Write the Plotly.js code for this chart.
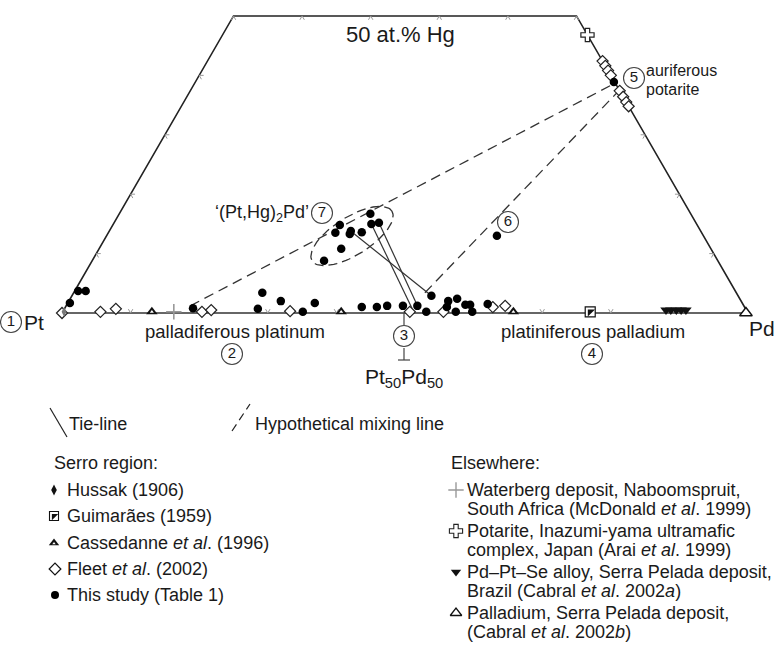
<!DOCTYPE html>
<html><head><meta charset="utf-8">
<script src="https://cdn.plot.ly/plotly-3.0.1.min.js"></script>
<style>html,body{margin:0;padding:0;background:#fff}#chart{width:779px;height:657px}</style>
</head><body><div id="chart"></div>
<script>
// Compositions in at.% : Pd and Hg (Pt = 100 - Pd - Hg)
const thisStudyPd = [0.3,0.5,1.6,18.7,28.2,27.5,30.9,35.0,36.0,43.2,45.4,46.8,49.1,51.2,53.0,52.4,55.3,55.6,56.4,57.3,58.1,58.8,59.7,61.3,36.6,33.1,33.1,35.2,35.3,36.9,37.6,38.6,35.3,33.8,56.9,61.0];
const thisStudyHg = [1.7,3.7,3.7,0.8,0.7,3.4,2.0,0.2,1.7,1.0,1.0,1.2,1.2,1.2,0.2,2.9,2.0,1.0,2.4,0.2,1.4,1.4,0.2,1.5,16.7,14.8,13.5,13.8,13.3,13.6,15.0,15.2,10.8,8.8,13.0,38.9];
const fleetPd = [0,5.5,7.5,20.3,21.5,33.1,50.6,55.5,62.3,64.0,57.6,58.4,59.2,60.0,62.6,63.6,64.5,65.2];
const fleetHg = [0,0.2,0.7,0.2,0.5,0.3,0.2,0.2,1.0,1.2,42.4,41.6,40.8,40.0,37.4,36.4,35.5,34.8];
const hussakPd = [0.2], hussakHg = [0.2];
const cassedannePd = [13.0,40.6,65.7], cassedanneHg = [0.2,0.2,0.2];
const guimaraesPd = [76.9], guimaraesHg = [0.2];
const waterbergPd = [16.2], waterbergHg = [0.2];
const inazumiPd = [53.2], inazumiHg = [46.8];
const pdPtSePd = [87.8,88.5,89.3,90.0,90.7], pdPtSeHg = [0.5,0.5,0.5,0.5,0.5];
const palladiumPd = [99.7], palladiumHg = [0];
// tie-lines and hypothetical mixing lines (start/end compositions)
const tieFromPd = [35.5,37.6,38.6], tieFromHg = [13.6,15.0,15.2];
const tieToPd = [52.4,50.7,51.4], tieToHg = [2.9,0.7,1.0];
const mixFromPd = [18.1,51.2], mixFromHg = [1.2,3.4];
const mixToPd = [61.3,62.5], mixToHg = [38.7,37.5];
// tick positions (at.%)
const baseTicks = [10,20,30,40,60,70,80,90];
const topTicks = [0,10,20,30,40,50];
const sideTicks = [10,20,30,40];

const W=779,H=657,X0=62,Y0=313,S=6.86,R3=Math.sqrt(3)/2;
const F='Liberation Sans, Arial, sans-serif';
const C='#1a1a1a';
function c2d(pd,hg){return [pd+hg/2, hg*R3];}
function px(xp,yp){return [(xp-X0)/S,(Y0-yp)/S];}
function pts(pdA,hgA){const x=[],y=[];pdA.forEach((p,i)=>{const d=c2d(p,hgA[i]);x.push(d[0]);y.push(d[1]);});return {x,y};}
function segs(fp,fh,tp,th){const x=[],y=[];fp.forEach((p,i)=>{const a=c2d(p,fh[i]),b=c2d(tp[i],th[i]);x.push(a[0],b[0],null);y.push(a[1],b[1],null);});return {x,y};}

const traces=[];
// frame
const fr=[c2d(0,0),c2d(0,50),c2d(50,50),c2d(100,0)];
traces.push({type:'scatter',mode:'lines',x:fr.map(p=>p[0]),y:fr.map(p=>p[1]),line:{color:'#222',width:1.6},hoverinfo:'skip'});
traces.push({type:'scatter',mode:'lines',x:[0,100],y:[0,0],line:{color:'#666',width:2},hoverinfo:'skip'});
// ticks
(function(){const x=[],y=[],L=0.65;
 baseTicks.forEach(t=>{const p=c2d(t,0);x.push(p[0]-L*0.5,p[0],p[0]+L*0.5,null);y.push(p[1]+L*R3,p[1],p[1]+L*R3,null);});
 topTicks.forEach(t=>{const p=c2d(t,50);x.push(p[0]-L*0.5,p[0],p[0]+L*0.5,null);y.push(p[1]-L*R3,p[1],p[1]-L*R3,null);});
 sideTicks.forEach(t=>{let p=c2d(0,t);x.push(p[0]+L,p[0],p[0]+L*0.5,null);y.push(p[1],p[1],p[1]-L*R3,null);
   p=c2d(100-t,t);x.push(p[0]-L,p[0],p[0]-L*0.5,null);y.push(p[1],p[1],p[1]-L*R3,null);});
 traces.push({type:'scatter',mode:'lines',x,y,line:{color:'#999',width:1},hoverinfo:'skip'});
})();
// Pt50Pd50 marker line
(function(){const a=px(404,313),b=px(404,325),c=px(404,348),d=px(404,360),e=px(398,360),f=px(410,360);
 traces.push({type:'scatter',mode:'lines',x:[a[0],b[0],null,c[0],d[0],null,e[0],f[0]],y:[a[1],b[1],null,c[1],d[1],null,e[1],f[1]],line:{color:'#444',width:1.2},hoverinfo:'skip'});})();
// ellipse (dashed) around the '(Pt,Hg)2Pd' cluster
(function(){const ctr=px(352,236),a=47/S,b=19/S,th=32*Math.PI/180,x=[],y=[];
 for(let i=0;i<=80;i++){const t=2*Math.PI*i/80;x.push(ctr[0]+a*Math.cos(t)*Math.cos(th)-b*Math.sin(t)*Math.sin(th));y.push(ctr[1]+a*Math.cos(t)*Math.sin(th)+b*Math.sin(t)*Math.cos(th));}
 traces.push({type:'scatter',mode:'lines',x,y,line:{color:'#333',width:1.3,dash:'9px,5px'},hoverinfo:'skip'});})();
// mixing lines
const mx=segs(mixFromPd,mixFromHg,mixToPd,mixToHg);
traces.push({type:'scatter',mode:'lines',x:mx.x,y:mx.y,line:{color:'#333',width:1.3,dash:'10px,6px'},hoverinfo:'skip'});
// tie lines
const tl=segs(tieFromPd,tieFromHg,tieToPd,tieToHg);
traces.push({type:'scatter',mode:'lines',x:tl.x,y:tl.y,line:{color:'#333',width:1.2},hoverinfo:'skip'});

function mk(pdA,hgA,marker){const p=pts(pdA,hgA);traces.push({type:'scatter',mode:'markers',x:p.x,y:p.y,marker,hoverinfo:'skip'});}
mk(waterbergPd,waterbergHg,{symbol:'cross-thin',size:11,line:{color:'#999',width:1.6}});
mk(cassedannePd,cassedanneHg,{symbol:'triangle-up',size:10,color:'#111',line:{width:0}});
mk(cassedannePd,cassedanneHg,{symbol:'triangle-up',size:3.5,color:'#fff',line:{width:0}});
mk(guimaraesPd,guimaraesHg,{symbol:'square',size:10,color:'#fff',line:{color:'#111',width:1.2}});
mk(guimaraesPd,guimaraesHg,{symbol:'triangle-nw',size:8,color:'#111',line:{width:0}});
mk(inazumiPd,inazumiHg,{symbol:'cross',size:11,color:'#fff',line:{color:'#222',width:1.2}});
mk(pdPtSePd,pdPtSeHg,{symbol:'triangle-down',size:10,color:'#111',line:{width:0}});
mk(palladiumPd,palladiumHg,{symbol:'triangle-up',size:11,color:'#fff',line:{color:'#111',width:1.4}});
mk(fleetPd,fleetHg,{symbol:'diamond',size:8.5,color:'#fff',line:{color:'#222',width:1.2}});
mk(hussakPd,hussakHg,{symbol:'diamond-tall',size:7,color:'#777',line:{width:0}});
mk(thisStudyPd,thisStudyHg,{symbol:'circle',size:8.5,color:'#000',line:{width:0}});

// circled numbers
(function(){const pos=[[11,322,'1'],[232,354,'2'],[404,336,'3'],[592,354,'4'],[634,78,'5'],[508,222,'6'],[322,213,'7']];
 const x=[],y=[],t=[];pos.forEach(p=>{const d=px(p[0],p[1]);x.push(d[0]);y.push(d[1]);t.push(p[2]);});
 traces.push({type:'scatter',mode:'markers+text',x,y,text:t,textposition:'middle center',textfont:{family:F,size:15,color:C},marker:{symbol:'circle',size:21,color:'#fff',line:{color:'#444',width:1.1}},hoverinfo:'skip'});})();

// legend symbols
function lg(xp,yp,marker){const d=px(xp,yp);traces.push({type:'scatter',mode:'markers',x:[d[0]],y:[d[1]],marker,hoverinfo:'skip'});}
lg(54,490,{symbol:'diamond-tall',size:8,color:'#111',line:{width:0}});
lg(54,516,{symbol:'square',size:9,color:'#fff',line:{color:'#111',width:1.1}});
lg(54,516,{symbol:'triangle-nw',size:7,color:'#111',line:{width:0}});
lg(54,543,{symbol:'triangle-up',size:9,color:'#111',line:{width:0}});
lg(54,543.5,{symbol:'triangle-up',size:3,color:'#fff',line:{width:0}});
lg(55,569,{symbol:'diamond',size:9,color:'#fff',line:{color:'#111',width:1.2}});
lg(55,595,{symbol:'circle',size:8,color:'#000',line:{width:0}});
lg(456,490,{symbol:'cross-thin',size:11,line:{color:'#999',width:1.4}});
lg(456,531,{symbol:'cross',size:11,color:'#fff',line:{color:'#222',width:1.1}});
lg(456,572,{symbol:'triangle-down',size:9,color:'#111',line:{width:0}});
lg(456,613,{symbol:'triangle-up',size:10,color:'#fff',line:{color:'#111',width:1.3}});
(function(){const a=px(50,408),b=px(67,437);traces.push({type:'scatter',mode:'lines',x:[a[0],b[0]],y:[a[1],b[1]],line:{color:'#222',width:1.2},hoverinfo:'skip'});
 const c=px(232,431),d=px(250,404);traces.push({type:'scatter',mode:'lines',x:[c[0],d[0]],y:[c[1],d[1]],line:{color:'#222',width:1.2,dash:'8px,5px'},hoverinfo:'skip'});})();

function ann(xp,yp,text,size,anchor){return {xref:'paper',yref:'paper',x:xp/W,y:1-yp/H,text,showarrow:false,xanchor:anchor||'left',yanchor:'middle',font:{family:F,size,color:C}};}
const LS=18;
const annotations=[
 ann(400,34,'50 at.% Hg',22,'center'),
 ann(22,323,'Pt',21,'left'),
 ann(762,328,'Pd',21,'center'),
 ann(235,331,'palladiferous platinum',18.5,'center'),
 ann(593,331,'platiniferous palladium',18.5,'center'),
 ann(404,378,'Pt<sub>50</sub>Pd<sub>50</sub>',21,'center'),
 ann(311,213,'‘(Pt,Hg)<sub>2</sub>Pd’',18,'right'),
 ann(644,71,'auriferous',16,'left'),
 ann(644,89,'potarite',16,'left'),
 ann(67,424,'Tie-line',LS,'left'),
 ann(253,424,'Hypothetical mixing line',LS,'left'),
 ann(52,463,'Serro region:',LS,'left'),
 ann(65,490,'Hussak (1906)',LS,'left'),
 ann(65,516,'Guimarães (1959)',LS,'left'),
 ann(65,543,'Cassedanne <i>et al</i>. (1996)',LS,'left'),
 ann(65,569,'Fleet <i>et al</i>. (2002)',LS,'left'),
 ann(65,595,'This study (Table 1)',LS,'left'),
 ann(449,463,'Elsewhere:',LS,'left'),
 ann(465,490,'Waterberg deposit, Naboomspruit,',LS,'left'),
 ann(465,509,'South Africa (McDonald <i>et al</i>. 1999)',LS,'left'),
 ann(465,531,'Potarite, Inazumi-yama ultramafic',LS,'left'),
 ann(465,550,'complex, Japan (Arai <i>et al</i>. 1999)',LS,'left'),
 ann(465,572,'Pd–Pt–Se alloy, Serra Pelada deposit,',LS,'left'),
 ann(465,591,'Brazil (Cabral <i>et al</i>. 2002<i>a</i>)',LS,'left'),
 ann(465,613,'Palladium, Serra Pelada deposit,',LS,'left'),
 ann(465,632,'(Cabral <i>et al</i>. 2002<i>b</i>)',LS,'left')
];

const layout={width:W,height:H,margin:{l:0,r:0,t:0,b:0},paper_bgcolor:'#fff',plot_bgcolor:'#fff',showlegend:false,
 xaxis:{range:[-X0/S,(W-X0)/S],visible:false,fixedrange:true},
 yaxis:{range:[(Y0-H)/S,Y0/S],visible:false,fixedrange:true},
 annotations};
Plotly.newPlot('chart',traces,layout,{staticPlot:true});
</script></body></html>
